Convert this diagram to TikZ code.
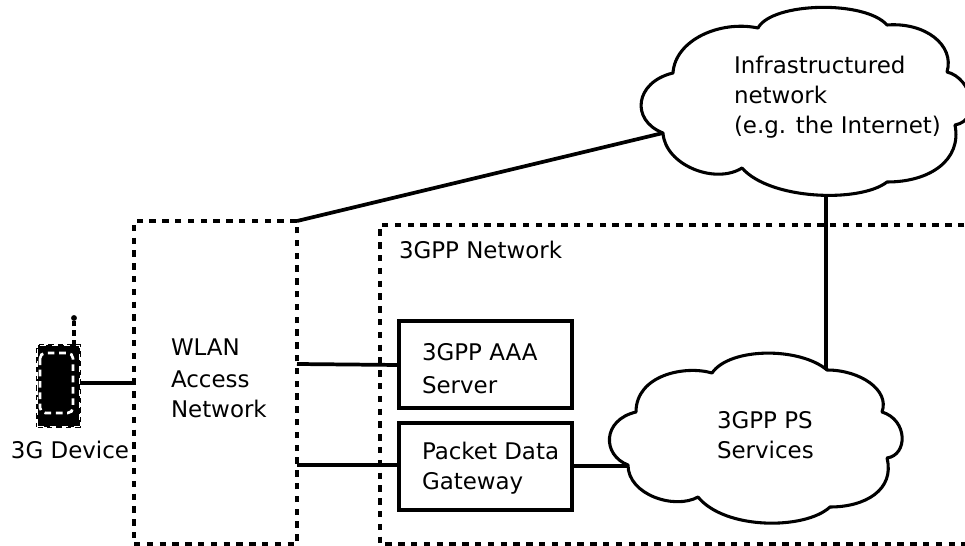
\documentclass[tikz,border=0pt]{standalone}
\usepackage{fontspec}
\setmainfont{DejaVu Sans}
\begin{document}
\begin{tikzpicture}[x=0.75pt,y=-0.75pt,
  lbl/.style={inner sep=0pt,outer sep=0pt,anchor=base west,font=\fontsize{17.2pt}{22pt}\selectfont,align=left},
  conn/.style={line width=2.8pt,black},
  dashbox/.style={line width=2.7pt,dash pattern=on 4.8pt off 4.8pt,black},
  solidbox/.style={draw,line width=3pt,black,inner sep=0pt,outer sep=0pt,fill=white},
  cloudshape/.style={draw=black,fill=white,line width=2.3pt,line join=round}]
\clip (0,0) rectangle (965,546);
\fill[white] (0,0) rectangle (965,546);
% dashed regions
\node[draw,dashbox,inner sep=0pt,outer sep=0pt,minimum width=122.25pt,minimum height=242.25pt] (wlan) at (215.5,382.5) {};
\draw[dashbox] (990,225) -- (380,225) -- (380,544) -- (990,544);
% coordinates for connector ends
\coordinate (wlanA) at (297,364);
\coordinate (aaaIn) at (399,365);
\coordinate (wlanB) at (297,465);
\coordinate (pdgIn) at (399,465);
\coordinate (wlanC) at (297,221);
\coordinate (wlanD) at (134,383);
\coordinate (devOut) at (80,383);
\coordinate (netCusp) at (663,133);
\coordinate (netBottom) at (826,195);
\coordinate (psTop) at (826,371);
\coordinate (psLeft) at (628,466);
\coordinate (pdgOut) at (572,466);
% connectors
\draw[conn] (wlanC) -- (netCusp);
\draw[conn] (netBottom) -- (psTop);
\draw[conn] (psLeft) -- (pdgOut);
% clouds
\draw[cloudshape] (673,73)
  .. controls (675,40) and (720,20) .. (758,28)
  .. controls (772,2) and (865,0) .. (887,25)
  .. controls (925,22) and (955,45) .. (947,72)
  .. controls (972,78) and (982,120) .. (955,125)
  .. controls (962,160) and (930,182) .. (887,182)
  .. controls (860,203) and (770,200) .. (742,168)
  .. controls (715,185) and (665,165) .. (663,133)
  .. controls (630,120) and (635,82) .. cycle;
\draw[cloudshape] (636,412)
  .. controls (636,375) and (685,365) .. (712,373)
  .. controls (730,347) and (800,347) .. (827,370)
  .. controls (860,370) and (890,390) .. (882,412)
  .. controls (908,420) and (908,455) .. (887,458)
  .. controls (895,490) and (865,507) .. (830,507)
  .. controls (805,530) and (725,530) .. (698,497)
  .. controls (675,510) and (628,495) .. (628,465)
  .. controls (602,455) and (602,420) .. cycle;
% boxes
\node[solidbox,minimum width=129.75pt,minimum height=65.25pt] (aaa) at (485.5,364.5) {};
\node[solidbox,minimum width=129.75pt,minimum height=65.25pt] (pdg) at (485.5,466.5) {};
\draw[conn] (wlanA) -- (aaaIn);
\draw[conn] (wlanB) -- (pdgIn);
% device
\node[inner sep=0pt,outer sep=0pt,draw=black,fill=black,line width=2.2pt,dash pattern=on 4pt off 3pt,minimum width=31.5pt,minimum height=61pt] (dev) at (58.5,386) {};
\draw[white,line width=1.2pt,dash pattern=on 4.5pt off 4.5pt] (dev.south west) rectangle (dev.north east);
\draw[white,line width=2pt,dash pattern=on 5pt off 3.5pt,rounded corners=4pt] (40,353) rectangle (73,413);
\coordinate (antTop) at (74,318);
\draw[line width=2.6pt,dash pattern=on 4pt off 3pt] (74,345) -- (antTop);
\fill (antTop) circle (2.2pt);
\draw[conn] (devOut) -- (wlanD);
% labels
\node[lbl] (t1) at (734,73) {Infrastructured};
\node[lbl] (t2) at (734,103) {network};
\node[lbl] (t3) at (734,133) {(e.g. the Internet)};
\node[lbl] (t4) at (717,428) {3GPP PS};
\node[lbl] (t5) at (717,458) {Services};
\node[lbl] (t6) at (399,258) {3GPP Network};
\node[lbl] (t7) at (171,355) {WLAN};
\node[lbl] (t8) at (171,387) {Access};
\node[lbl] (t9) at (171,417) {Network};
\node[lbl] (t10) at (422,360) {3GPP AAA};
\node[lbl] (t10b) at (422,393) {Server};
\node[lbl] (t11) at (422,459) {Packet Data};
\node[lbl] (t12) at (422,489) {Gateway};
\node[lbl] (t13) at (11,458) {3G Device};
\end{tikzpicture}
\end{document}
